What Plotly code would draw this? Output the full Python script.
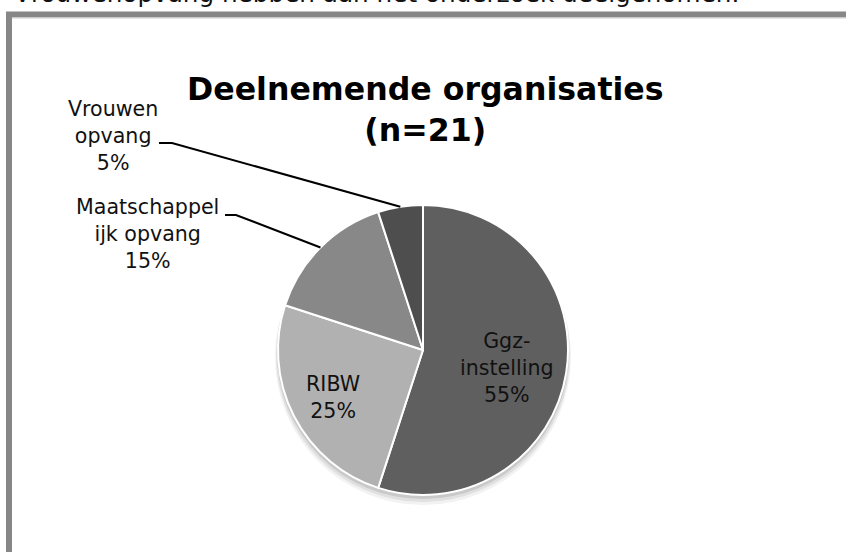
import math
import plotly.graph_objects as go

# ---- data ----
categories = ["Ggz-instelling", "RIBW", "Maatschappelijk opvang", "Vrouwenopvang"]
label_texts = ["Ggz-<br>instelling<br>55%", "RIBW<br>25%", "Maatschappel<br>ijk opvang<br>15%", "Vrouwen<br>opvang<br>5%"]
values = [55, 25, 15, 5]
colors = ["#5f5f5f", "#b1b1b1", "#888888", "#4e4e4e"]
title_text = "<b>Deelnemende organisaties<br>(n=21)</b>"
top_text = "Vrouwenopvang hebben aan het onderzoek deelgenomen."

W, H = 846, 552
FONT = "DejaVu Sans"


def px(x):
    return x / W


def py(y):
    return 1 - y / H


cx, cy, r = 423, 350, 145

fig = go.Figure()

# soft shadow under the pie (decoration)
for off, extra, op in [(7, 3, 0.05), (5, 2, 0.07), (3, 1, 0.10)]:
    rr = r + extra
    fig.add_trace(go.Pie(
        values=[1], marker=dict(colors=[f"rgba(0,0,0,{op})"], line=dict(width=0)),
        textinfo="none", hoverinfo="skip", sort=False, showlegend=False,
        domain=dict(x=[px(cx - rr), px(cx + rr)], y=[py(cy + off + rr), py(cy + off - rr)]),
    ))

fig.add_trace(go.Pie(
    labels=categories, values=values, sort=False, direction="clockwise", rotation=0,
    marker=dict(colors=colors, line=dict(color="white", width=2)),
    textinfo="none", hoverinfo="label+percent", showlegend=False,
    domain=dict(x=[px(cx - r), px(cx + r)], y=[py(cy + r), py(cy - r)]),
))

# label positions (px) for each category
label_pos = [(507, 368), (333, 397), (147, 234), (113, 136)]
annotations = []
for t, (lx, ly) in zip(label_texts, label_pos):
    annotations.append(dict(
        x=px(lx), y=py(ly), xref="paper", yref="paper", text=t, showarrow=False,
        font=dict(family=FONT, size=20.6, color="#111111"), xanchor="center", yanchor="middle",
    ))

# leader lines from labels to slice mid-angle on pie edge
total = sum(values)
cum = 0
mids = []
for v in values:
    mids.append((cum + v / 2) / total)
    cum += v
line_starts = {2: ((225, 215), (236, 215)), 3: ((159, 143), (172, 143))}
shapes = []
for i, ((x0, y0), (x1, y1)) in line_starts.items():
    th = 2 * math.pi * mids[i]
    ex = cx + r * math.sin(th)
    ey = cy - r * math.cos(th)
    path = f"M {px(x0)},{py(y0)} L {px(x1)},{py(y1)} L {px(ex)},{py(ey)}"
    shapes.append(dict(type="path", xref="paper", yref="paper", path=path,
                       line=dict(color="#000000", width=2)))

# frame
shapes.append(dict(type="rect", xref="paper", yref="paper",
                   x0=px(9), x1=px(W + 20), y0=py(14.5), y1=py(H + 20),
                   line=dict(color="#878787", width=6)))
shapes.append(dict(type="line", xref="paper", yref="paper",
                   x0=px(12), x1=px(W + 20), y0=py(18), y1=py(18),
                   line=dict(color="#d0d0d0", width=1)))

annotations.append(dict(
    x=px(425), y=py(109), xref="paper", yref="paper", text=title_text, showarrow=False,
    font=dict(family=FONT, size=31.6, color="#000000"), xanchor="center", yanchor="middle",
))
annotations.append(dict(
    x=px(12), y=py(-7.0), xref="paper", yref="paper", text=top_text, showarrow=False,
    font=dict(family=FONT, size=24.7, color="#111111"), xanchor="left", yanchor="middle",
))

fig.update_layout(
    width=W, height=H, margin=dict(l=0, r=0, t=0, b=0),
    paper_bgcolor="white", plot_bgcolor="white",
    annotations=annotations, shapes=shapes, showlegend=False,
)

fig.write_html("out.html")
